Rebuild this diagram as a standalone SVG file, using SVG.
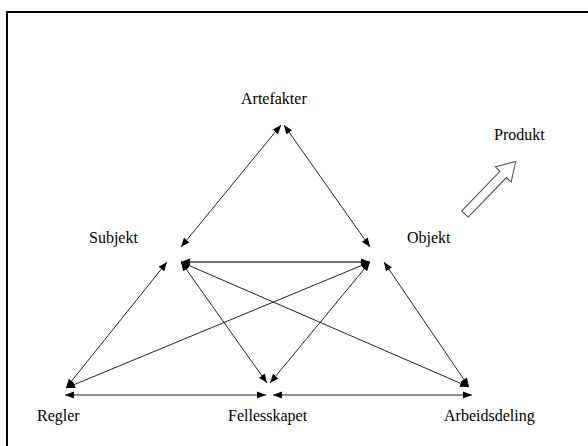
<svg xmlns="http://www.w3.org/2000/svg" width="588" height="446" viewBox="0 0 588 446">
<style>
  .lbl { font-family: "Liberation Serif", "DejaVu Serif", "Times New Roman", serif; font-size: 16px; fill: #000; }
  .con { stroke: #222; stroke-width: 1; fill: none; marker-start: url(#ah); marker-end: url(#ah); }
</style>
<defs>
  <marker id="ah" viewBox="0 0 10 8" refX="10" refY="4" markerWidth="9" markerHeight="7.5" markerUnits="userSpaceOnUse" orient="auto-start-reverse">
    <path d="M0,0 L10,4 L0,8 Z" fill="#000"/>
  </marker>
</defs>
<rect x="0" y="0" width="588" height="446" fill="#fff"/>
<rect id="frame" x="7" y="12" width="620" height="480" fill="none" stroke="#000" stroke-width="2"/>

<g id="connectors">
  <line class="con" x1="281" y1="125" x2="181" y2="247"/>
  <line class="con" x1="284" y1="125" x2="370" y2="247"/>
  <line class="con" x1="181" y1="262" x2="370" y2="262" style="stroke-width:1.6;stroke:#444"/>
  <line class="con" x1="66" y1="388" x2="167" y2="262"/>
  <line class="con" x1="66" y1="388" x2="370" y2="262"/>
  <line class="con" x1="181" y1="262" x2="267" y2="383"/>
  <line class="con" x1="370" y1="262" x2="270" y2="383"/>
  <line class="con" x1="181" y1="262" x2="469" y2="387"/>
  <line class="con" x1="469" y1="387" x2="384" y2="262"/>
  <line class="con" x1="65" y1="395" x2="266" y2="395"/>
  <line class="con" x1="273" y1="395" x2="472" y2="395"/>
</g>

<g id="artefakter"><text class="lbl" font-family="Liberation Serif, serif" x="241" y="104">Artefakter</text></g>
<g id="subjekt"><text class="lbl" font-family="Liberation Serif, serif" x="89" y="243">Subjekt</text></g>
<g id="objekt"><text class="lbl" font-family="Liberation Serif, serif" x="407" y="243">Objekt</text></g>
<g id="regler"><text class="lbl" font-family="Liberation Serif, serif" x="37" y="421">Regler</text></g>
<g id="fellesskapet"><text class="lbl" font-family="Liberation Serif, serif" x="228" y="421">Fellesskapet</text></g>
<g id="arbeidsdeling"><text class="lbl" font-family="Liberation Serif, serif" x="444" y="421">Arbeidsdeling</text></g>
<g id="produkt">
  <text class="lbl" font-family="Liberation Serif, serif" x="494" y="140">Produkt</text>
  <polygon transform="translate(465,214) rotate(-46)" points="0,-4.5 55,-4.5 55,-11 73,0 55,11 55,4.5 0,4.5" fill="#fff" stroke="#444" stroke-width="1"/>
</g>
</svg>
